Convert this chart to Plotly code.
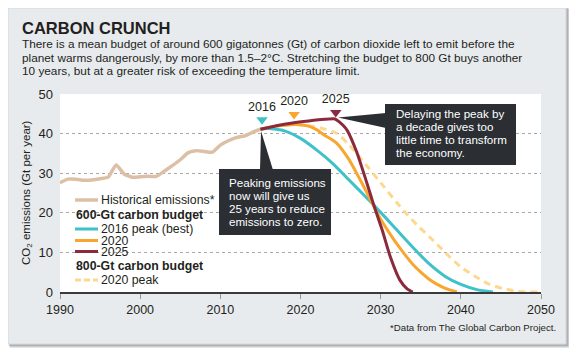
import plotly.graph_objects as go

# ---------------- data ----------------
hist_years = list(range(1990, 2016))
hist_vals = [27.6, 28.5, 28.5, 28.2, 28.3, 28.6, 29.0, 32.1, 29.8, 29.0, 29.1, 29.2, 29.2,
             30.5, 31.9, 33.4, 35.2, 35.7, 35.5, 35.3, 37.1, 38.2, 39.0, 39.4, 40.3, 41.1]

teal_years = [2015, 2016, 2018, 2020, 2022, 2024, 2026, 2028, 2030, 2032, 2034, 2036,
              2038, 2040, 2042, 2044]
teal_vals = [41.1, 41.3, 40.7, 38.8, 35.9, 32.5, 28.4, 24.3, 20.1, 15.7, 11.3, 7.2,
             4.0, 1.9, 0.6, 0.0]

orange_years = [2015, 2017, 2019.4, 2021, 2022, 2023, 2024.5, 2026, 2027, 2028, 2029, 2030,
                2031, 2032, 2033, 2034, 2035, 2036, 2037, 2038, 2039.5]
orange_vals = [41.1, 41.9, 42.3, 41.9, 41.0, 39.6, 37.6, 33.6, 30.0, 26.2, 22.2, 18.4,
               15.2, 12.2, 9.5, 7.0, 5.0, 3.3, 2.0, 1.0, 0.0]

red_years = [2015, 2017, 2019, 2021, 2023, 2024.3, 2024.8, 2025.8, 2027, 2028.3, 2029.1,
             2030.2, 2031.2, 2032.4, 2033.3, 2034]
red_vals = [41.1, 42.0, 42.7, 43.2, 43.6, 43.7, 43.0, 40.9, 35.4, 27.4, 22.2,
            15.6, 8.9, 3.0, 0.8, 0.0]

dash_years = [2015, 2017, 2019.4, 2021, 2022.5, 2024.5, 2026, 2027, 2028.5, 2030.4, 2032,
              2033.2, 2034.5, 2036.1, 2037.5, 2038.6, 2040, 2041.9, 2043.5, 2045.2, 2047,
              2048.3, 2050]
dash_vals = [41.1, 41.9, 42.3, 42.0, 41.4, 40.1, 37.3, 35.0, 31.3, 26.6, 22.6,
             19.8, 17.0, 13.9, 11.1, 8.9, 6.3, 3.8, 2.0, 0.9, 0.2, 0.0, 0.0]

peak_labels = ["2016", "2020", "2025"]
peak_years = [2015.2, 2019.2, 2024.4]
peak_marker_y = [43.5, 44.8, 45.3]
peak_label_y = [46.6, 47.9, 48.4]

x_ticks = [1990, 2000, 2010, 2020, 2030, 2040, 2050]
y_ticks = [0, 10, 20, 30, 40, 50]

# ---------------- style ----------------
C_HIST = "#dcc0a5"
C_TEAL = "#3fc1c9"
C_ORANGE = "#f9a630"
C_RED = "#8b2a3d"
C_DASH = "#fdd88e"
C_TEXT = "#231f20"
C_BOX = "#2b2f34"
CARD = "#e8ebee"

OFF = 8                      # page body margin
W, H = 577 - OFF, 356 - OFF
# plot area in page pixels: x 60..541, y 94..292
L, R, T, B = 60 - OFF, W - (541 - OFF), 94 - OFF, H - (292 - OFF)
PW, PH = W - L - R, H - T - B


def px(x):
    return (x - OFF - L) / PW


def py(y):
    return (H - B - (y - OFF)) / PH


SANS = "Liberation Sans, Arial, sans-serif"

fig = go.Figure()

line_w = 3
fig.add_trace(go.Scatter(x=hist_years, y=hist_vals, mode="lines",
                         line=dict(color=C_HIST, width=3.5, shape="spline", smoothing=0.5),
                         showlegend=False, hoverinfo="skip"))
fig.add_trace(go.Scatter(x=dash_years, y=dash_vals, mode="lines",
                         line=dict(color=C_DASH, width=line_w, dash="7px,5px", shape="spline", smoothing=0.6),
                         showlegend=False, hoverinfo="skip"))
fig.add_trace(go.Scatter(x=teal_years, y=teal_vals, mode="lines",
                         line=dict(color=C_TEAL, width=line_w, shape="spline", smoothing=0.6),
                         showlegend=False, hoverinfo="skip"))
fig.add_trace(go.Scatter(x=orange_years, y=orange_vals, mode="lines",
                         line=dict(color=C_ORANGE, width=line_w, shape="spline", smoothing=0.6),
                         showlegend=False, hoverinfo="skip"))
fig.add_trace(go.Scatter(x=red_years, y=red_vals, mode="lines",
                         line=dict(color=C_RED, width=line_w, shape="spline", smoothing=0.5),
                         showlegend=False, hoverinfo="skip"))
# peak markers and labels
fig.add_trace(go.Scatter(x=peak_years, y=peak_marker_y, mode="markers",
                         marker=dict(symbol="triangle-down", size=10,
                                     color=[C_TEAL, C_ORANGE, C_RED], line=dict(width=0)),
                         showlegend=False, hoverinfo="skip", cliponaxis=False))
fig.add_trace(go.Scatter(x=peak_years, y=peak_label_y, mode="text", text=peak_labels,
                         textfont=dict(family=SANS, size=12.5, color=C_TEXT),
                         showlegend=False, hoverinfo="skip", cliponaxis=False))

shapes = []
# card shadow + card
shapes.append(dict(type="rect", xref="paper", yref="paper", layer="below",
                   x0=px(10), x1=px(570), y0=py(9), y1=py(348),
                   fillcolor="rgba(0,0,0,0.10)", line=dict(width=0)))
shapes.append(dict(type="rect", xref="paper", yref="paper", layer="below",
                   x0=px(9), x1=px(568.5), y0=py(8), y1=py(346.5),
                   fillcolor="rgba(0,0,0,0.22)", line=dict(width=0)))
shapes.append(dict(type="rect", xref="paper", yref="paper", layer="below",
                   x0=px(8), x1=px(566), y0=py(8), y1=py(344),
                   fillcolor=CARD, line=dict(color="#d5d8db", width=1)))
# white plot area
shapes.append(dict(type="rect", xref="paper", yref="paper", layer="below",
                   x0=0, x1=1, y0=0, y1=1, fillcolor="white", line=dict(width=0)))


def wedge(pts):
    d = "M " + " L ".join(f"{px(a):.5f},{py(b):.5f}" for a, b in pts) + " Z"
    return dict(type="path", xref="paper", yref="paper", path=d,
                fillcolor=C_BOX, line=dict(width=0), layer="above")


shapes.append(dict(type="rect", xref="paper", yref="paper", layer="above",
                   x0=px(219), x1=px(331), y0=py(235), y1=py(169),
                   fillcolor=C_BOX, line=dict(width=0)))
shapes.append(wedge([(261, 131), (260, 170), (273, 170)]))
shapes.append(dict(type="rect", xref="paper", yref="paper", layer="above",
                   x0=px(385), x1=px(516), y0=py(165), y1=py(104),
                   fillcolor=C_BOX, line=dict(width=0)))
shapes.append(wedge([(338, 117.5), (386, 113), (386, 128)]))

# legend line samples
legend_rows = [
    (200, C_HIST, "solid", 3.5),
    (229, C_TEAL, "solid", 3),
    (240.5, C_ORANGE, "solid", 3),
    (251.5, C_RED, "solid", 3),
    (280, C_DASH, "6px,3px", 3),
]
for yy, col, dsh, wd in legend_rows:
    shapes.append(dict(type="line", xref="paper", yref="paper",
                       x0=px(75), x1=px(98), y0=py(yy), y1=py(yy),
                       line=dict(color=col, width=wd, dash=dsh)))

ann = []


def text(x, y, s, size=12.5, color=C_TEXT, family=SANS, xanchor="left", bold=False):
    if bold:
        s = f"<b>{s}</b>"
    ann.append(dict(x=px(x), y=py(y), xref="paper", yref="paper", text=s,
                    showarrow=False, xanchor=xanchor, yanchor="middle",
                    font=dict(size=size, color=color, family=family)))


# title & subtitle
text(20, 28, "CARBON CRUNCH", size=16.5, bold=True)
sub = ["There is a mean budget of around 600 gigatonnes (Gt) of carbon dioxide left to emit before the",
       "planet warms dangerously, by more than 1.5–2°C. Stretching the budget to 800 Gt buys another",
       "10 years, but at a greater risk of exceeding the temperature limit."]
for i, s in enumerate(sub):
    text(20, 44 + 13.5 * i, s, size=11.8)

# legend texts
text(99, 200, "Historical emissions*", size=12.3)
text(74, 214.5, "600-Gt carbon budget", size=12.3, bold=True)
text(99, 229, "2016 peak (best)", size=12.3)
text(99, 240.5, "2020", size=12.3)
text(99, 251.5, "2025", size=12.3)
text(74, 266, "800-Gt carbon budget", size=12.3, bold=True)
text(99, 280, "2020 peak", size=12.3)

# box texts
for i, s in enumerate(["Peaking emissions", "now will give us", "25 years to reduce", "emissions to zero."]):
    text(227, 182 + 13 * i, s, size=11.6, color="white")
for i, s in enumerate(["Delaying the peak by", "a decade gives too", "little time to transform", "the economy."]):
    text(394, 113.5 + 13 * i, s, size=11.6, color="white")

# y-axis title
ann.append(dict(x=px(27), y=py(193), xref="paper", yref="paper",
                text="CO<sub>2</sub> emissions (Gt per year)", showarrow=False,
                textangle=-90, xanchor="center", yanchor="middle",
                font=dict(size=11.5, color=C_TEXT, family=SANS)))
# footnote
text(558, 327, "*Data from The Global Carbon Project.", size=9.7, xanchor="right")

fig.update_layout(
    width=W, height=H,
    margin=dict(l=L, r=R, t=T, b=B, pad=0),
    paper_bgcolor="white",
    plot_bgcolor="rgba(0,0,0,0)",
    shapes=shapes,
    annotations=ann,
    showlegend=False,
    xaxis=dict(range=[1990, 2050], tickvals=x_ticks, showgrid=False, zeroline=False,
               showline=True, linecolor="#3a3a3a", linewidth=2,
               ticks="outside", ticklen=5, tickcolor="#9a9a9a", tickwidth=1,
               tickfont=dict(family=SANS, size=12.5, color=C_TEXT)),
    yaxis=dict(range=[0, 50], tickvals=y_ticks, showgrid=True, gridcolor="#a8a8a8",
               griddash="dot", gridwidth=1, zeroline=False, showline=False,
               ticks="", ticklabelstandoff=6,
               tickfont=dict(family=SANS, size=13, color=C_TEXT)),
)

fig.write_html("out.html")
